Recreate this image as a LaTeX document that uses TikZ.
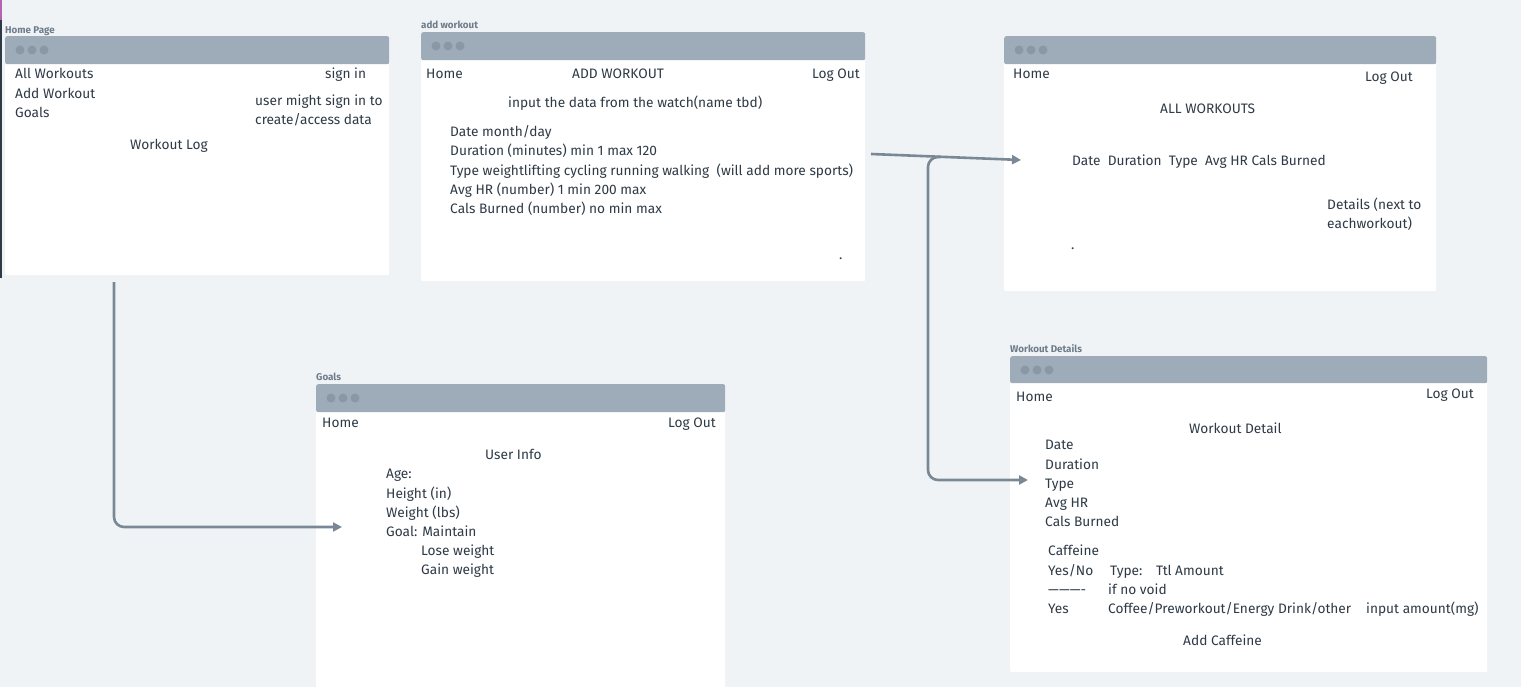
\documentclass[tikz,border=0pt]{standalone}
\usepackage{fontspec}
\setmainfont{Fira Sans}
\usepackage{xcolor}
\usetikzlibrary{positioning, arrows.meta}
\definecolor{canvas}{HTML}{F0F3F6}
\definecolor{barcol}{HTML}{9DACB8}
\definecolor{dotcol}{HTML}{8A98A6}
\definecolor{inkcol}{HTML}{2E3A46}
\definecolor{tagcol}{HTML}{6E7C8A}
\definecolor{linkcol}{HTML}{7A8896}
\tikzstyle{window} = [rectangle, rounded corners=2pt, fill=white, inner sep=0pt, anchor=north west]
\tikzstyle{winbar} = [rectangle, rounded corners=2pt, fill=barcol, inner sep=0pt, anchor=north west]
\tikzstyle{windot} = [circle, fill=dotcol, minimum size=9pt, inner sep=0pt]
\tikzstyle{tag} = [font=\fontsize{9.8}{10}\selectfont\bfseries, text=tagcol, anchor=base west, yshift=-3.8pt, inner sep=0pt]
\tikzstyle{txt} = [font=\fontsize{13.7}{15}\selectfont, text=inkcol, anchor=base west, yshift=-5.6pt, inner sep=0pt]
\tikzstyle{arrow} = [line width=2.6pt, draw=linkcol, rounded corners=10pt, -{Triangle[length=9pt, width=9pt]}]
% screen: name, left, top, right, bottom, bar bottom
\newcommand{\screen}[6]{%
  \node[window, minimum width=#4-#2, minimum height=#5-#3] (#1) at (#2,#3) {};
  \node[winbar, minimum width=#4-#2, minimum height=#6-#3] (#1bar) at (#2,#3) {};
  \node[windot] at (#2+15,#3+14) {};
  \node[windot] at (#2+27,#3+14) {};
  \node[windot] at (#2+39,#3+14) {};
}
\begin{document}
\begin{tikzpicture}[x=1pt, y=-1pt]
    \fill[canvas] (0,0) rectangle (1521,687);
    \useasboundingbox (0,0) rectangle (1521,687);
    \fill[inkcol] (0,0) rectangle (2,278);
    \fill[violet!60] (0,0) rectangle (2,20);

    % screens
    \screen{home}{5}{36}{389}{275}{64}
    \screen{add}{421}{32}{865}{281}{60}
    \screen{all}{1004}{36}{1436}{291}{64}
    \screen{detail}{1010}{356}{1487}{672}{383}
    \screen{goals}{316}{384}{725}{690}{412}

    \node[tag] (hometag) at (5,30) {Home Page};
    \node[tag] (addtag) at (421,25) {add workout};
    \node[tag] (detailtag) at (1010,349) {Workout Details};
    \node[tag] (goalstag) at (316,377) {Goals};

    % home page
    \node[txt] (h1) at (15,73) {All Workouts};
    \node[txt] (h2) at (15,93) {Add Workout};
    \node[txt] (h3) at (15,112) {Goals};
    \node[txt] (h4) at (325,73) {sign in};
    \node[txt] (h5) at (255,100) {user might sign in to};
    \node[txt] (h6) at (255,119) {create/access data};
    \node[txt] (h7) at (130,144) {Workout Log};

    % add workout
    \node[txt] (a1) at (426,73) {Home};
    \node[txt] (a2) at (572,73) {ADD WORKOUT};
    \node[txt] (a3) at (812,73) {Log Out};
    \node[txt] (a4) at (508,102) {input the data from the watch(name tbd)};
    \node[txt] (a5) at (450,131) {Date month/day};
    \node[txt] (a6) at (450,150) {Duration (minutes) min 1 max 120};
    \node[txt] (a7) at (450,170) {Type weightlifting cycling running walking\ \ (will add more sports)};
    \node[txt] (a8) at (450,189) {Avg HR (number) 1 min 200 max};
    \node[txt] (a9) at (450,208) {Cals Burned (number) no min max};
    \node[txt] (a10) at (839,254) {.};

    % all workouts
    \node[txt] (w1) at (1013,73) {Home};
    \node[txt] (w2) at (1365,76) {Log Out};
    \node[txt] (w3) at (1160,108) {ALL WORKOUTS};
    \node[txt] (w4) at (1072,160) {Date\ \ Duration\ \ Type\ \ Avg HR Cals Burned};
    \node[txt] (w5) at (1327,204) {Details (next to};
    \node[txt] (w6) at (1327,223) {eachworkout)};
    \node[txt] (w7) at (1071,244) {.};

    % workout details
    \node[txt] (d1) at (1016,396) {Home};
    \node[txt] (d2) at (1426,393) {Log Out};
    \node[txt] (d3) at (1189,428) {Workout Detail};
    \node[txt] (d4) at (1045,444) {Date};
    \node[txt] (d5) at (1045,464) {Duration};
    \node[txt] (d6) at (1045,483) {Type};
    \node[txt] (d7) at (1045,502) {Avg HR};
    \node[txt] (d8) at (1045,521) {Cals Burned};
    \node[txt] (d9) at (1048,550) {Caffeine};
    \node[txt] (d10) at (1048,570) {Yes/No};
    \node[txt] (d11) at (1110,570) {Type:};
    \node[txt] (d12) at (1156,570) {Ttl Amount};
    \node[txt] (d13) at (1048,589) {———-};
    \node[txt] (d14) at (1108,589) {if no void};
    \node[txt] (d15) at (1048,608) {Yes};
    \node[txt] (d16) at (1108,608) {Coffee/Preworkout/Energy Drink/other};
    \node[txt] (d17) at (1366,608) {input amount(mg)};
    \node[txt] (d18) at (1183,640) {Add Caffeine};

    % goals
    \node[txt] (g1) at (322,422) {Home};
    \node[txt] (g2) at (668,422) {Log Out};
    \node[txt] (g3) at (485,454) {User Info};
    \node[txt] (g4) at (386,473) {Age:};
    \node[txt] (g5) at (386,493) {Height (in)};
    \node[txt] (g6) at (386,512) {Weight (lbs)};
    \node[txt] (g7) at (386,531) {Goal: Maintain};
    \node[txt] (g8) at (421,550) {Lose weight};
    \node[txt] (g9) at (421,569) {Gain weight};

    % links
    \coordinate (homeout) at (114,282);
    \coordinate (goalsin) at (342,527);
    \coordinate (addout) at (871,154);
    \coordinate (allin) at (1021,160);
    \coordinate (fork) at (940,157);
    \coordinate (detailin) at (1028,480);

    \draw[arrow] (homeout) |- (goalsin);
    \draw[arrow, rounded corners=0pt] (addout) -- (allin);
    \draw[arrow] (fork) -- (928,157) |- (detailin);
\end{tikzpicture}
\end{document}
